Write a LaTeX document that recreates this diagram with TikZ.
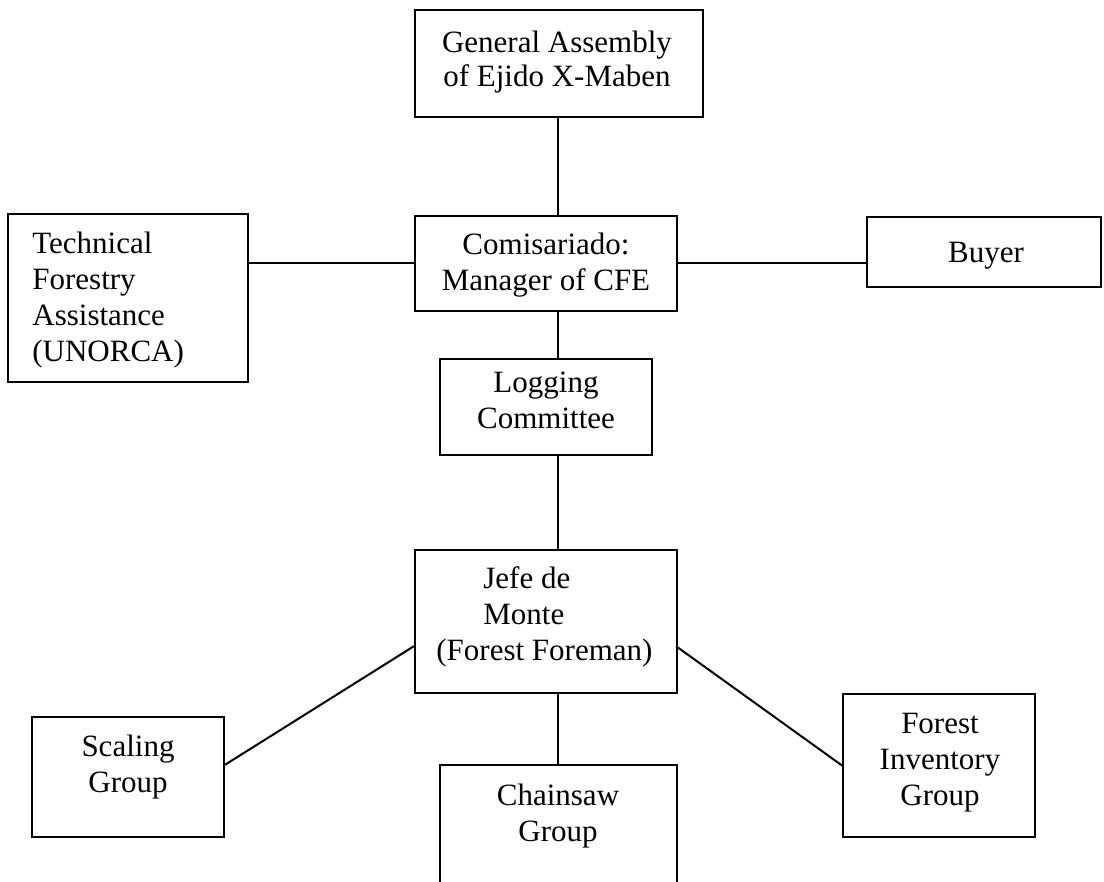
\documentclass[tikz,border=0pt]{standalone}
\usepackage{fontspec}
\setmainfont{Liberation Serif}
\usetikzlibrary{fit,calc}
\begin{document}
\begin{tikzpicture}[x=0.5pt,y=-0.5pt,
  box/.style={draw, line width=1pt, inner sep=0pt},
  txt/.style={inner sep=0pt, font=\fontsize{15.5}{18}\selectfont, align=center},
  link/.style={line width=1pt}]
\useasboundingbox (0,0) rectangle (1104,882);
\clip (0,0) rectangle (1104,882);
% boxes
\node[box, fit={(415,10) (703,117)}] (ga) {};
\node[box, fit={(415,216) (677,311)}] (com) {};
\node[box, fit={(440,359) (652,455)}] (log) {};
\node[box, fit={(8,214) (248,382)}] (tech) {};
\node[box, fit={(867,217) (1101,287)}] (buyer) {};
\node[box, fit={(415,550) (677,693)}] (jefe) {};
\node[box, fit={(32,717) (224,837)}] (scal) {};
\node[box, fit={(440,765) (677,900)}] (chain) {};
\node[box, fit={(843,694) (1035,837)}] (inv) {};
% texts (anchor = baseline of the last line)
\node[txt, font=\fontsize{15.5}{17}\selectfont, anchor=base] (gaT) at (557,87) {General Assembly\\of Ejido X-Maben};
\node[txt, anchor=base] (comT) at (546,291) {Comisariado:\\Manager of CFE};
\node[txt, anchor=base] (logT) at (546,429) {Logging\\Committee};
\node[txt, align=left, anchor=base west] (techT) at (32,362) {Technical\\Forestry\\Assistance\\(UNORCA)};
\node[txt, anchor=base] (buyerT) at (986,263) {Buyer};
\node[txt, align=left, anchor=base west] (jefeT) at (436,660) {\hspace*{23.5pt}Jefe de\\\hspace*{23.5pt}Monte\\(Forest Foreman)};
\node[txt, anchor=base] (scalT) at (128,792) {Scaling\\Group};
\node[txt, anchor=base] (chainT) at (558,841) {Chainsaw\\Group};
\node[txt, anchor=base] (invT) at (940,805) {Forest\\Inventory\\Group};
% connectors
\coordinate (spine) at (557.5,0);
\draw[link] (ga.south -| spine) -- (com.north -| spine);
\draw[link] (com.west) -- (com.west -| tech.east);
\draw[link] (com.east) -- (com.east -| buyer.west);
\draw[link] (com.south -| spine) -- (log.north -| spine);
\draw[link] (log.south -| spine) -- (jefe.north -| spine);
\draw[link] (jefe.south -| spine) -- (chain.north -| spine);
\draw[link] ($(jefe.north west)!0.67!(jefe.south west)$) -- ($(scal.north east)!0.4!(scal.south east)$);
\draw[link] ($(jefe.north east)!0.68!(jefe.south east)$) -- (inv.west);
\end{tikzpicture}
\end{document}
